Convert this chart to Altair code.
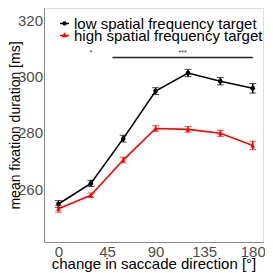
import altair as alt
import pandas as pd

angles = [0, 30, 60, 90, 120, 150, 180]
low_mean = [254.7, 262.0, 277.9, 294.8, 301.2, 298.3, 295.8]
low_se = [1.2, 1.1, 1.2, 1.2, 1.3, 1.3, 1.7]
high_mean = [253.0, 257.8, 270.3, 281.5, 281.2, 279.8, 275.5]
high_se = [1.2, 0.8, 1.0, 1.0, 1.0, 1.1, 1.5]
series_names = ["low spatial frequency target", "high spatial frequency target"]
series_colors = ["black", "red"]
legend_shapes = [
    "M-1,0H1M-0.3,0A0.3,0.3 0 1,0 0.3,0A0.3,0.3 0 1,0 -0.3,0",
    "M-1,0H1M0,-0.38L0.33,0.2L-0.33,0.2Z",
]

sig_start = [50]
sig_end = [180]
sig_level = [306.7]
star_x = [30, 115]
star_text = ["*", "***"]

XT = "change in saccade direction [°]"
YT = "mean fixation duration [ms]"

rows = []
for name, means, ses in [(series_names[0], low_mean, low_se), (series_names[1], high_mean, high_se)]:
    for a, m, s in zip(angles, means, ses):
        rows.append({"angle": a, "mean": m, "lo": m - s, "hi": m + s, "series": name})
df = pd.DataFrame(rows)

sig_df = pd.DataFrame({"x": sig_start, "x2": sig_end, "y": sig_level})
star_df = pd.DataFrame({"x": star_x, "label": star_text, "y": [sig_level[0]] * len(star_x)})

FONT = "Liberation Sans"
xs = alt.Scale(domain=[-13.4, 189.5], nice=False, zero=False)
ys = alt.Scale(domain=[241.2, 324.3], nice=False, zero=False)
cscale = alt.Scale(domain=series_names, range=series_colors)
color_nolegend = alt.Color("series:N", scale=cscale, legend=None)

x_enc = alt.X("angle:Q", scale=xs, title=XT,
              axis=alt.Axis(values=[0, 45, 90, 135, 180],
                            grid=False, ticks=False, labelPadding=2, domainColor="#888888",
                            labelColor="#4d4d4d", labelFontSize=15, titleFontSize=15,
                            titleFontWeight="normal", titlePadding=-3, titleColor="black",
                            labelFont=FONT, titleFont=FONT))
y_enc = alt.Y("mean:Q", scale=ys, title=YT,
              axis=alt.Axis(values=[260, 280, 300, 320],
                            grid=False, ticks=False, labelPadding=1.5, domainColor="#888888",
                            labelColor="#4d4d4d", labelFontSize=15, titleFontSize=14,
                            titleFontWeight="normal", titleColor="black",
                            titleX=-24.5, titleBaseline="alphabetic",
                            labelFont=FONT, titleFont=FONT))

def X(f):
    return alt.X(f, scale=xs, title=XT)

def Y(f):
    return alt.Y(f, scale=ys, title=YT)

base = alt.Chart(df)
lines = base.mark_line(strokeWidth=1.6).encode(x=x_enc, y=y_enc, color=color_nolegend)
errs = base.mark_errorbar(ticks=alt.MarkConfig(size=7, strokeWidth=1.6), rule=alt.MarkConfig(strokeWidth=1.6)).encode(
    x=X("angle:Q"), y=Y("lo:Q"), y2="hi:Q", color=color_nolegend)
pts = base.mark_point(filled=True, size=22, opacity=1).encode(
    x=X("angle:Q"), y=Y("mean:Q"),
    color=color_nolegend,
    shape=alt.Shape("series:N", scale=alt.Scale(domain=series_names, range=["circle", "triangle-up"]), legend=None))

legend_rows = []
for i, (nm, col, shp) in enumerate(zip(series_names, series_colors, legend_shapes)):
    leg = alt.Legend(title=None, orient="none", legendX=13, legendY=8 + 12 * i, padding=0,
                     labelFontSize=15, labelColor="black", labelFont=FONT, labelLimit=0,
                     labelOffset=2, symbolStrokeWidth=1.6, symbolSize=81)
    legend_rows.append(
        base.transform_filter(alt.datum.series == "__none__").mark_point(
            filled=False, strokeWidth=1.6, size=81, opacity=1).encode(
            x=X("angle:Q"), y=Y("mean:Q"),
            color=alt.Color("series:N", scale=alt.Scale(domain=[nm], range=[col]), legend=leg),
            shape=alt.Shape("series:N", scale=alt.Scale(domain=[nm], range=[shp]), legend=leg)))

sig = alt.Chart(sig_df).mark_rule(color="#222222", strokeWidth=1.5).encode(
    x=X("x:Q"), x2="x2:Q", y=Y("y:Q"))
stars = alt.Chart(star_df).mark_text(fontSize=7, dy=-5, color="#333333").encode(
    x=X("x:Q"), y=Y("y:Q"), text="label:N")

chart = alt.layer(lines, errs, pts, sig, stars, *legend_rows).resolve_scale(
    shape="independent", color="independent").properties(
    width=219, height=234, autosize="none",
    padding={"left": 36, "top": 0, "right": 2, "bottom": 31},
).configure_view(stroke=None).configure(font=FONT)

chart.save("out.html", embed_options={"renderer": "svg", "actions": False})
